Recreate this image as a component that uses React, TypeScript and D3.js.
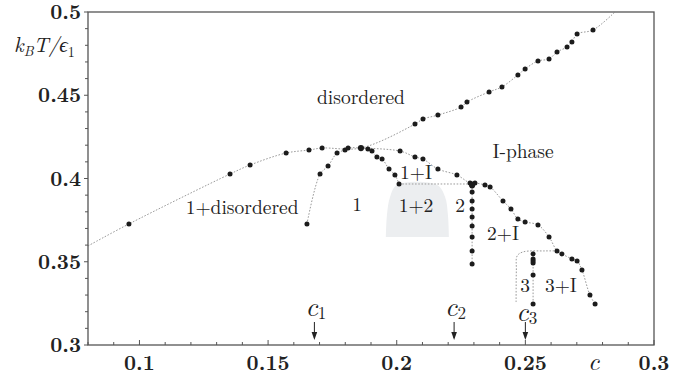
import React from 'react';
import * as d3 from 'd3';

type P = [number, number];

// values: [c, kBT/eps1]
const peak: P = [0.1861, 0.4183];

const disorderLowStart: P = [0.08, 0.3595];
const disorderLow: P[] = [
    [0.0959, 0.3727], [0.1352, 0.4027], [0.143, 0.4081], [0.157, 0.4153],
    [0.1659, 0.4171], [0.171, 0.4183],
];

const disorderHigh: P[] = [
    [0.2071, 0.4327], [0.2102, 0.4357], [0.216, 0.4381], [0.225, 0.4429],
    [0.2273, 0.4459], [0.2359, 0.452], [0.2409, 0.455], [0.2471, 0.4622],
    [0.2499, 0.4658], [0.2549, 0.4706], [0.2592, 0.4718], [0.2623, 0.476],
    [0.2662, 0.479], [0.2681, 0.482], [0.2701, 0.4868], [0.2763, 0.4892],
];
const disorderHighEnd: P = [0.2848, 0.5];

const phase1Left: P[] = [
    [0.1651, 0.3727], [0.1702, 0.4027], [0.1733, 0.4075], [0.1768, 0.4153],
    [0.1799, 0.4171], [0.1811, 0.4183],
];

const phase1Right: P[] = [
    [0.1888, 0.4177], [0.1904, 0.4165], [0.1923, 0.4129], [0.1943, 0.4117],
    [0.197, 0.4057], [0.1993, 0.4021], [0.2009, 0.3967],
];

const iPhase: P[] = [
    [0.2013, 0.4165], [0.2071, 0.4129], [0.2102, 0.4117], [0.216, 0.4057],
    [0.2234, 0.4021], [0.2285, 0.3973], [0.2304, 0.3973], [0.2343, 0.3961],
    [0.2363, 0.3949], [0.2413, 0.3865], [0.2444, 0.3817], [0.2471, 0.3757],
    [0.2499, 0.3739], [0.2549, 0.3721], [0.2592, 0.3649], [0.2623, 0.3565],
    [0.2642, 0.3547], [0.2681, 0.3517], [0.2701, 0.3505], [0.272, 0.345],
    [0.2751, 0.33], [0.2771, 0.3246],
];

const eutectic: P[] = [[0.2009, 0.3967], [0.2293, 0.3967]];

const phase2C = 0.2293;
const phase2T = [0.3967, 0.3955, 0.3919, 0.3865, 0.3817, 0.3769, 0.3715, 0.3649, 0.3565, 0.3486];

const phase3Outer: P[] = [
    [0.2464, 0.3258], [0.2465, 0.345], [0.2468, 0.3535], [0.2491, 0.3559],
    [0.2576, 0.3565], [0.2623, 0.3565],
];

const phase3C = 0.253;
const phase3Top = 0.3565;
const phase3T = [0.3547, 0.3517, 0.3505, 0.3493, 0.342, 0.3246];

const shade12: P[] = [
    [0.1958, 0.3649], [0.1962, 0.3781], [0.1974, 0.3889], [0.2001, 0.3961],
    [0.2157, 0.3961], [0.2188, 0.3889], [0.2199, 0.3781], [0.2203, 0.3649],
];

const regionLabels = [
    { text: 'disordered', c: 0.1861, t: 0.4447 },
    { text: 'I-phase', c: 0.2491, t: 0.4123 },
    { text: '1+disordered', c: 0.1399, t: 0.3787 },
    { text: '1', c: 0.1846, t: 0.3805 },
    { text: '1+I', c: 0.2075, t: 0.3997 },
    { text: '1+2', c: 0.2075, t: 0.3799 },
    { text: '2', c: 0.2246, t: 0.3799 },
    { text: '2+I', c: 0.2413, t: 0.3631 },
    { text: '3', c: 0.2499, t: 0.3318 },
    { text: '3+I', c: 0.2638, t: 0.3318 },
];

const markers = [
    { sub: '1', c: 0.168, dy: 0 },
    { sub: '2', c: 0.2223, dy: 0 },
    { sub: '3', c: 0.25, dy: 5 },
];

const xMajor = [0.1, 0.15, 0.2, 0.25, 0.3];
const yMajor = [0.3, 0.35, 0.4, 0.45, 0.5];

const W = 695;
const H = 380;

const App: React.FC = () => {
    const x = d3.scaleLinear().domain([0.08, 0.3]).range([88, 654]);
    const y = d3.scaleLinear().domain([0.3, 0.5]).range([345, 12]);

    const line = d3.line<P>()
        .x(d => x(d[0]))
        .y(d => y(d[1]))
        .curve(d3.curveCatmullRom.alpha(0.5));

    const curves: P[][] = [
        [disorderLowStart, ...disorderLow, peak, ...disorderHigh, disorderHighEnd],
        [...phase1Left, peak],
        [peak, ...phase1Right],
        [peak, ...iPhase],
        eutectic,
        [[phase2C, phase2T[0]], [phase2C, phase2T[phase2T.length - 1]]],
        phase3Outer,
        [[phase3C, phase3Top], [phase3C, phase3T[phase3T.length - 1]]],
    ];

    const dots: P[] = [
        ...disorderLow, ...disorderHigh, ...phase1Left, ...phase1Right, ...iPhase,
        ...phase2T.map(t => [phase2C, t] as P),
        ...phase3T.map(t => [phase3C, t] as P),
    ];

    const minor = d3.range(8, 31).map(v => v / 100);
    const yMinor = d3.range(30, 51).map(v => v / 100);
    const fmt = (v: number) => String(+v.toFixed(2));

    const serif = 'Latin Modern Roman';
    const axisColor = '#555';

    return (
        <svg width={W} height={H} style={{ position: 'absolute', left: 0, top: 0, background: '#fff' }}>
            {/* 1+2 shaded region */}
            <path d={(line(shade12) || '') + 'Z'} fill="#eceef0" stroke="none" />

            {curves.map((c, i) => (
                <path key={i} d={line(c) || ''} fill="none" stroke="#9a9a9a"
                    strokeWidth={1} strokeDasharray="1.6 1.6" />
            ))}

            {dots.map((d, i) => (
                <circle key={i} cx={x(d[0])} cy={y(d[1])} r={2.5} fill="#1c1c1c" />
            ))}
            <circle cx={x(peak[0])} cy={y(peak[1])} r={3.1} fill="#1c1c1c" />
            <circle cx={x(phase2C)} cy={y(0.3961)} r={3.1} fill="#1c1c1c" />

            {regionLabels.map((l, i) => (
                <text key={i} x={x(l.c)} y={y(l.t)} textAnchor="middle"
                    fontFamily={serif} fontSize={19.5} fill="#222">{l.text}</text>
            ))}

            {/* c1, c2, c3 markers */}
            {markers.map((m, i) => (
                <g key={i} transform={`translate(${x(m.c)},0)`}>
                    <text x={-9} y={316 + m.dy} fontFamily={serif} fontStyle="italic" fontSize={27} fill="#222">
                        c<tspan fontStyle="normal" fontSize={17} dy={3}>{m.sub}</tspan>
                    </text>
                    <line x1={0} x2={0} y1={322} y2={338} stroke="#222" strokeWidth={1} />
                    <path d="M-2.8,332 L0,340 L2.8,332 Z" fill="#222" />
                </g>
            ))}

            {/* frame */}
            <rect x={88} y={12} width={654 - 88} height={345 - 12} fill="none" stroke={axisColor} strokeWidth={1.3} />

            {/* x ticks */}
            {minor.map(v => (
                <line key={'xm' + v} x1={x(v)} x2={x(v)} y1={345}
                    y2={345 - (xMajor.some(m => Math.abs(m - v) < 1e-9) ? 5 : 3)}
                    stroke={axisColor} strokeWidth={1} />
            ))}
            {xMajor.map(v => (
                <text key={'xl' + v} x={x(v)} y={370} textAnchor="middle" fontFamily={serif}
                    fontWeight="bold" fontSize={21} fill="#222">{fmt(v)}</text>
            ))}

            {/* y ticks */}
            {yMinor.map(v => (
                <line key={'ym' + v} x1={88} x2={88 - (yMajor.some(m => Math.abs(m - v) < 1e-9) ? 4 : 3)}
                    y1={y(v)} y2={y(v)} stroke={axisColor} strokeWidth={1} />
            ))}
            {yMajor.map(v => (
                <text key={'yl' + v} x={81} y={y(v) + 7} textAnchor="end" fontFamily={serif}
                    fontWeight="bold" fontSize={21} fill="#222">{fmt(v)}</text>
            ))}

            {/* axis titles */}
            <text x={588} y={370} fontFamily={serif} fontStyle="italic" fontSize={25} fill="#222">c</text>
            <text x={14} y={52} fontFamily={serif} fontStyle="italic" fontSize={21} fill="#222">
                k<tspan fontSize={14} dy={4}>B</tspan>
                <tspan dy={-4}>T/ϵ</tspan>
                <tspan fontSize={14} fontStyle="normal" dy={5}>1</tspan>
            </text>
        </svg>
    );
};

export default App;
